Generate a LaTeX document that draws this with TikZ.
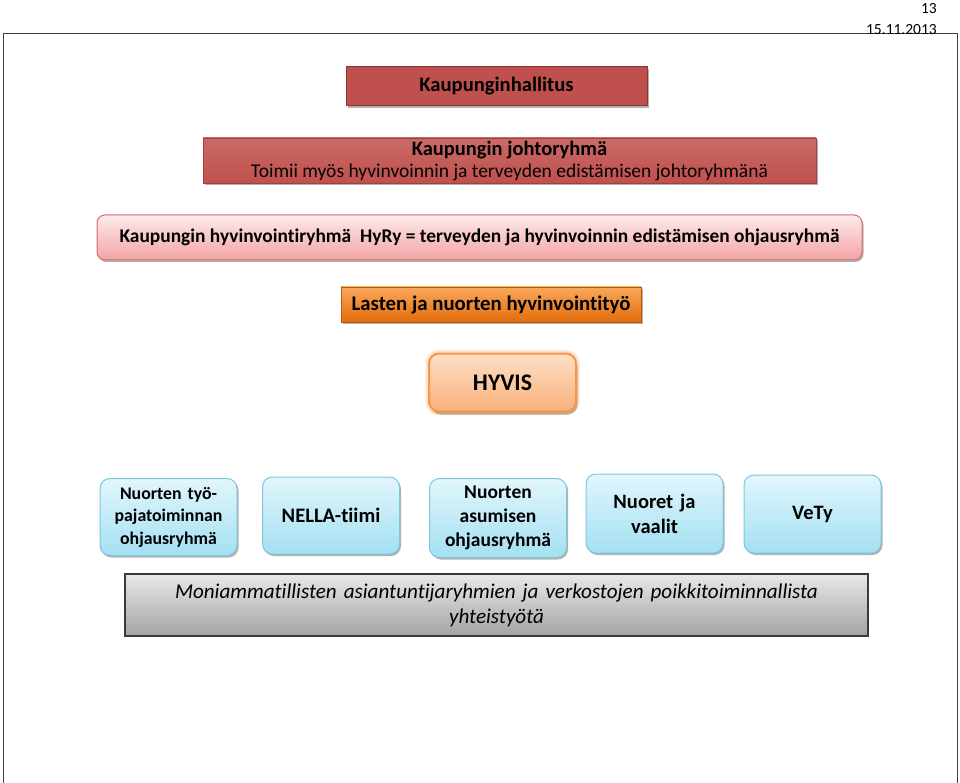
\documentclass[tikz,border=0pt]{standalone}
\usepackage{fontspec}
\setmainfont{Carlito}[Ligatures=NoCommon]
\usetikzlibrary{shadows}
\definecolor{redf}{HTML}{C0504D}
\definecolor{redd}{HTML}{8E3634}
\definecolor{pinkt}{HTML}{FDEBEB}
\definecolor{pinkb}{HTML}{F3A3A3}
\definecolor{pinkd}{HTML}{D36C6C}
\definecolor{orat}{HTML}{F9A85C}
\definecolor{orab}{HTML}{E36C09}
\definecolor{orad}{HTML}{B85A0C}
\definecolor{peat}{HTML}{FDE0C8}
\definecolor{peab}{HTML}{F9B07A}
\definecolor{pead}{HTML}{F79646}
\definecolor{blut}{HTML}{E2F6FC}
\definecolor{blub}{HTML}{A3E0F2}
\definecolor{blud}{HTML}{7CC7DC}
\definecolor{grat}{HTML}{E8E8E8}
\definecolor{grab}{HTML}{A3A3A3}
\definecolor{grad}{HTML}{3A3A3A}
\tikzset{
  base/.style={inner sep=2pt, align=center, font=\bfseries, text=black},
  shd/.style={drop shadow={shadow xshift=1.5pt, shadow yshift=-2pt, fill=black, opacity=0.3}},
  redbox/.style={base, shd, draw=redd, line width=1pt, fill=redf},
  redwide/.style={base, shd, draw=redd!60!redf, line width=0.8pt, top color=redf!85!white, bottom color=redf},
  pinkbox/.style={base, shd, draw=pinkd, line width=1pt, rounded corners=8pt, top color=pinkt, bottom color=pinkb},
  orabox/.style={base, shd, draw=orad, line width=0.8pt, top color=orat, bottom color=orab},
  peabox/.style={base, draw=pead, line width=2pt, rounded corners=10pt, top color=peat, bottom color=peab,
    preaction={draw=pead, draw opacity=0.25, line width=7pt},
    drop shadow={shadow xshift=1.5pt, shadow yshift=-3pt, fill=black, opacity=0.25}},
  blubox/.style={base, shd, draw=blud, line width=1pt, rounded corners=10pt, top color=blut, bottom color=blub,
    minimum width=137pt, text width=132pt},
  grabox/.style={inner sep=2pt, align=center, draw=grad, line width=1.5pt, top color=grat, bottom color=grab,
    font=\itshape},
  hdr/.style={inner sep=0pt, anchor=east, font=\fontsize{15.5}{17}\selectfont}
}
\begin{document}
\begin{tikzpicture}[x=1pt,y=-1pt]
\useasboundingbox[fill=white] (0,0) rectangle (960,783);
% frame
\draw[line width=1.5pt, draw=black!75] (3.5,783) -- (3.5,33.5) -- (957.5,33.5) -- (957.5,783);
\node[hdr] (pg) at (937,8.5) {13};
\node[hdr] (dt) at (937,29.5) {15.11.2013};

\node[redbox, minimum width=301pt, minimum height=39pt, font=\bfseries\fontsize{20.6}{24}\selectfont] (kh) at (496.5,86.5) {Kaupunginhallitus};

\node[redwide, minimum width=613pt, minimum height=45pt, font=\fontsize{19.5}{22}\selectfont] (jr) at (509.5,160.5)
  {{\bfseries\fontsize{20.5}{22}\selectfont Kaupungin johtoryhmä}\\Toimii myös hyvinvoinnin ja terveyden edistämisen johtoryhmänä};

\node[pinkbox, minimum width=765pt, minimum height=45pt, font=\bfseries\fontsize{19.4}{22}\selectfont] (hy) at (479.5,237.5)
  {Kaupungin hyvinvointiryhmä\ \ HyRy = terveyden ja hyvinvoinnin edistämisen ohjausryhmä};

\node[orabox, minimum width=300pt, minimum height=35pt, font=\bfseries\fontsize{20.8}{22}\selectfont] (ln) at (491,304.5)
  {Lasten ja nuorten hyvinvointityö};

\node[peabox, minimum width=147pt, minimum height=58pt, font=\bfseries\fontsize{23.8}{26}\selectfont] (hv) at (502.5,382.5) {HYVIS};

\node[blubox, minimum height=77pt, font=\bfseries\fontsize{17.8}{22.5}\selectfont] (b1) at (168.5,517)
  {Nuorten työ-\\pajatoiminnan\\ohjausryhmä};
\node[blubox, minimum height=77pt, font=\bfseries\fontsize{20.6}{24}\selectfont] (b2) at (331,515.5) {NELLA-tiimi};
\node[blubox, minimum height=79pt, font=\bfseries\fontsize{19.5}{24}\selectfont] (b3) at (498,518)
  {Nuorten\\asumisen\\ohjausryhmä};
\node[blubox, minimum height=79pt, font=\bfseries\fontsize{20.5}{25}\selectfont] (b4) at (654.5,513.5) {Nuoret ja\\vaalit};
\node[blubox, minimum height=78pt, font=\bfseries\fontsize{20.5}{24}\selectfont] (b5) at (812.5,514) {VeTy};

\node[grabox, minimum width=743pt, minimum height=62pt, text width=730pt, font=\itshape\fontsize{21.1}{25}\selectfont] (mo) at (496.5,605)
  {Moniammatillisten asiantuntijaryhmien ja verkostojen poikkitoiminnallista\\yhteistyötä};
\end{tikzpicture}
\end{document}
